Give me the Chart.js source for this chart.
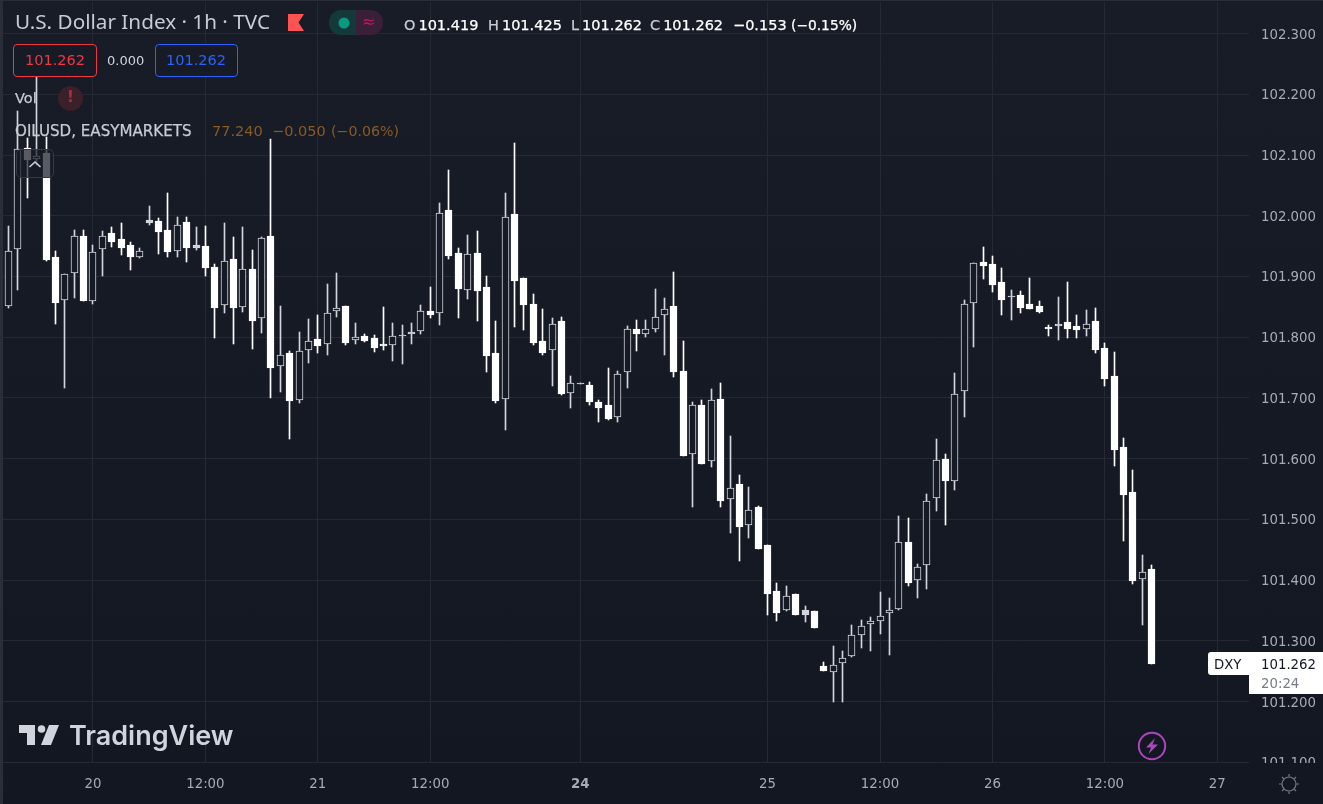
<!DOCTYPE html>
<html lang="en">
<head>
<meta charset="UTF-8">
<title>U.S. Dollar Index</title>
<script src="https://cdn.jsdelivr.net/npm/chart.js"></script>
<style>
  html, body { margin: 0; padding: 0; }
  body { width: 1323px; height: 804px; overflow: hidden; position: relative;
         background: linear-gradient(#181c27, #131722); font-family: "DejaVu Sans", sans-serif; }
  canvas { position: absolute; left: 0; top: 0; }
  .t { position: absolute; white-space: pre; line-height: 1; }
  .box { position: absolute; box-sizing: border-box; }
  .med { -webkit-text-stroke: 0.25px currentColor; }
  .dim { color: #c8cbd3; margin-right: 3px; }
  svg { position: absolute; overflow: visible; }
</style>
</head>
<body>
<canvas id="dxyChart" width="1323" height="804"></canvas>

<div class="box" style="left:0;top:0;width:3px;height:804px;background:#2a2e39"></div>
<div class="box" style="left:0;top:0;width:1323px;height:1px;background:#2a2e39"></div>
<div class="box" style="left:1249px;top:763px;width:74px;height:41px;background:#131722"></div>

<span class="t" style="left:15px;top:11px;font-family:'Noto Sans';font-size:20.7px;color:#c8cbd3">U.S. Dollar Index · 1h · TVC</span>
<svg style="left:0;top:0" width="1" height="1"><polygon points="288,14 304,14 298.5,22.5 304,31 288,31" fill="#ff5252"/></svg>
<div class="box" style="left:329px;top:10px;width:27px;height:25px;background:#15393a;border-radius:12px 0 0 12px"></div>
<div class="box" style="left:356px;top:10px;width:27px;height:25px;background:#3a1f38;border-radius:0 12px 12px 0"></div>
<svg style="left:0;top:0" width="1" height="1"><circle cx="344" cy="23" r="5.5" fill="#089981"/></svg>
<span class="t" style="left:362px;top:14px;font-size:16px;color:#c2185b">≈</span>

<span class="t med" style="left:404px;top:18px;font-size:14.5px;color:#fff"><span class="dim">O</span>101.419</span>
<span class="t med" style="left:488px;top:18px;font-size:14.5px;color:#fff"><span class="dim">H</span>101.425</span>
<span class="t med" style="left:571px;top:18px;font-size:14.5px;color:#fff"><span class="dim">L</span>101.262</span>
<span class="t med" style="left:650px;top:18px;font-size:14.5px;color:#fff"><span class="dim">C</span>101.262</span>
<span class="t med" style="left:733px;top:18px;font-size:14.5px;color:#fff">−0.153</span>
<span class="t med" style="left:791px;top:18.5px;font-size:13.8px;color:#fff">(−0.15%)</span>

<div class="box" style="left:13px;top:44px;width:84px;height:33px;border:1px solid #f23645;border-radius:4px;background:#171b26"></div>
<span class="t" style="left:25px;top:53px;font-size:14.5px;color:#f23645">101.262</span>
<span class="t" style="left:107px;top:54px;font-size:13px;color:#d1d4dc">0.000</span>
<div class="box" style="left:155px;top:44px;width:83px;height:33px;border:1px solid #2962ff;border-radius:4px;background:#171b26"></div>
<span class="t" style="left:166px;top:53px;font-size:14.5px;color:#2962ff">101.262</span>

<span class="t med" style="left:15px;top:91px;font-size:14.5px;color:#c8cbd3">Vol</span>
<div class="box" style="left:58px;top:86px;width:25px;height:25px;border-radius:50%;background:#3a2029"></div>
<span class="t" style="left:67px;top:90px;font-size:15px;font-weight:bold;color:#b8293a">!</span>

<span class="t med" style="left:15px;top:124px;font-size:15.1px;color:#c8cbd3">OILUSD, EASYMARKETS</span>
<span class="t" style="left:212px;top:124px;font-size:14.5px;color:#8a5a24">77.240</span>
<span class="t" style="left:272px;top:124px;font-size:14.5px;color:#8a5a24">−0.050</span>
<span class="t" style="left:331px;top:124px;font-size:14.2px;color:#8a5a24">(−0.06%)</span>

<div class="box" style="left:16px;top:149px;width:38px;height:29px;border:1px solid #363a45;border-radius:5px;background:rgba(24,28,39,0.72)"></div>
<svg style="left:0;top:0" width="1" height="1"><polyline points="29.5,167 35,162 40.5,167" fill="none" stroke="#d1d4dc" stroke-width="1.6"/></svg>

<svg style="left:0;top:0" width="1" height="1" fill="#d1d4dc">
  <polygon points="19,725 35,725 35,745 27,745 27,733 19,733"/>
  <circle cx="41.5" cy="729" r="3.8"/>
  <polygon points="49,725 59,725 51,745 41,745"/>
</svg>
<span class="t" style="left:69px;top:722px;font-family:Inter;font-weight:600;font-size:27px;color:#d1d4dc">TradingView</span>

<div class="box" style="left:1208px;top:652px;width:41px;height:23px;background:#fff;border-radius:3px 0 0 3px"></div>
<div class="box" style="left:1249px;top:652px;width:74px;height:42px;background:#fff"></div>
<span class="t" style="left:1214px;top:658px;font-size:13.3px;color:#131722">DXY</span>
<span class="t" style="left:1261px;top:658px;font-size:13.3px;color:#131722">101.262</span>
<span class="t" style="left:1261px;top:677px;font-size:13.3px;color:#787b86">20:24</span>

<svg style="left:0;top:0" width="1" height="1">
  <circle cx="1152" cy="746" r="13.2" fill="none" stroke="#ab47bc" stroke-width="2"/>
  <polygon points="1155,738 1146,747.5 1151,747.5 1148.5,754 1158,744.5 1152.5,744.5" fill="#ab47bc"/>
</svg>
<svg style="left:0;top:0" width="1" height="1" fill="none" stroke="#787b86" stroke-width="1.2">
  <circle cx="1289" cy="784" r="7"/>
  <path d="M1289 774v2.5M1289 791.5v2.5M1279 784h2.5M1296.5 784h2.5M1282 777l1.8 1.8M1294.2 789.2l1.8 1.8M1296 777l-1.8 1.8M1283.8 789.2l-1.8 1.8"/>
</svg>

<script>
// hourly candles
const opens = [101.852,101.945,102.111,102.094,102.103,101.932,101.862,101.905,101.967,101.859,
  101.946,101.972,101.962,101.952,101.932,101.988,101.991,101.977,101.942,101.990,
  101.947,101.950,101.916,101.853,101.929,101.850,101.912,101.832,101.967,101.753,
  101.774,101.697,101.779,101.797,101.789,101.843,101.851,101.795,101.802,101.799,
  101.789,101.787,101.802,101.805,101.810,101.843,101.840,102.009,101.939,101.878,
  101.939,101.883,101.774,101.699,102.003,101.897,101.855,101.794,101.779,101.827,
  101.708,101.723,101.722,101.693,101.688,101.668,101.742,101.814,101.805,101.813,
  101.836,101.851,101.745,101.607,101.689,101.596,101.699,101.533,101.558,101.491,
  101.520,101.457,101.382,101.350,101.377,101.342,101.349,101.258,101.249,101.264,
  101.275,101.309,101.328,101.333,101.346,101.352,101.462,101.400,101.425,101.535,
  101.599,101.564,101.712,101.856,101.924,101.920,101.891,101.866,101.869,101.854,
  101.851,101.817,101.818,101.825,101.818,101.814,101.826,101.782,101.736,101.619,
  101.545,101.401,101.419];
const highs = [101.983,102.172,102.128,102.240,102.130,101.942,101.904,101.977,101.977,101.952,
  101.975,101.981,101.988,101.957,101.947,102.016,101.996,102.037,101.998,101.998,
  101.981,101.983,101.921,101.988,101.965,101.981,101.944,101.965,102.126,101.851,
  101.777,101.809,101.830,101.837,101.888,101.906,101.851,101.823,101.805,101.804,
  101.850,101.823,101.820,101.823,101.853,101.883,102.021,102.075,101.947,101.968,
  101.975,101.901,101.827,102.037,102.120,101.897,101.871,101.846,101.832,101.833,
  101.736,101.724,101.727,101.697,101.750,101.745,101.818,101.828,101.828,101.880,
  101.864,101.908,101.793,101.693,101.697,101.714,101.725,101.638,101.573,101.553,
  101.522,101.457,101.395,101.391,101.377,101.357,101.349,101.265,101.291,101.283,
  101.326,101.335,101.339,101.380,101.370,101.505,101.503,101.426,101.541,101.633,
  101.607,101.741,101.861,101.923,101.948,101.933,101.914,101.877,101.876,101.897,
  101.859,101.820,101.866,101.891,101.836,101.845,101.848,101.790,101.775,101.634,
  101.581,101.442,101.425];
const lows = [101.848,101.878,102.029,102.084,101.925,101.822,101.717,101.865,101.860,101.854,
  101.901,101.949,101.935,101.911,101.930,101.985,101.937,101.932,101.932,101.924,
  101.944,101.901,101.799,101.840,101.789,101.841,101.781,101.807,101.700,101.710,
  101.632,101.692,101.758,101.774,101.771,101.833,101.787,101.789,101.792,101.776,
  101.779,101.761,101.756,101.789,101.805,101.832,101.820,101.929,101.832,101.863,
  101.827,101.743,101.692,101.647,101.817,101.812,101.787,101.771,101.720,101.705,
  101.683,101.723,101.689,101.661,101.663,101.660,101.717,101.777,101.800,101.808,
  101.770,101.735,101.604,101.520,101.592,101.586,101.521,101.478,101.432,101.469,
  101.451,101.342,101.332,101.349,101.342,101.331,101.321,101.250,101.199,101.199,
  101.273,101.289,101.283,101.311,101.276,101.350,101.391,101.370,101.385,101.513,
  101.490,101.548,101.668,101.784,101.896,101.874,101.836,101.828,101.840,101.846,
  101.840,101.802,101.795,101.798,101.798,101.802,101.774,101.719,101.588,101.464,
  101.393,101.326,101.262];
const closes = [101.942,102.110,102.092,102.098,101.927,101.857,101.904,101.966,101.860,101.941,
  101.966,101.957,101.947,101.932,101.942,101.993,101.973,101.940,101.985,101.947,
  101.952,101.914,101.848,101.925,101.848,101.912,101.827,101.963,101.749,101.771,
  101.695,101.777,101.794,101.786,101.840,101.848,101.790,101.800,101.794,101.782,
  101.786,101.802,101.804,101.809,101.843,101.837,102.004,101.934,101.879,101.937,
  101.876,101.769,101.695,101.998,101.893,101.853,101.790,101.774,101.822,101.706,
  101.724,101.724,101.693,101.684,101.665,101.739,101.814,101.805,101.814,101.834,
  101.847,101.742,101.604,101.688,101.592,101.697,101.530,101.552,101.487,101.516,
  101.451,101.377,101.345,101.373,101.342,101.350,101.321,101.251,101.261,101.272,
  101.310,101.325,101.333,101.341,101.350,101.462,101.396,101.422,101.531,101.598,
  101.563,101.707,101.854,101.923,101.917,101.886,101.861,101.868,101.848,101.846,
  101.841,101.813,101.822,101.813,101.812,101.821,101.779,101.731,101.614,101.540,
  101.398,101.414,101.262];

// small up bars that read as solid grey dashes
const grayBars = [15, 20, 42, 43, 61, 85, 107, 112];
const timeTickBars = [9, 21, 33, 45, 61, 81, 93, 105, 117, 129];
const timeTickLabels = ['20', '12:00', '21', '12:00', '24', '25', '12:00', '26', '12:00', '27'];
const priceTicks = [101.1, 101.2, 101.3, 101.4, 101.5, 101.6, 101.7, 101.8, 101.9, 102.0, 102.1, 102.2, 102.3];

const candleUp = '#d1d4dc';
const candleDown = '#ffffff';
const chartBg = '#161a25';
const gridColor = '#252934';
const tickColor = '#a8abb3';
const axisFamily = '"DejaVu Sans"';

const isUp = (i) => closes[i] > opens[i];
const lineColors = opens.map((_, i) => (isUp(i) ? candleUp : candleDown));
const bodyColors = opens.map((_, i) => {
    if (grayBars.includes(i)) return candleUp;
    return isUp(i) ? chartBg : candleDown;
});

// canvas bars land on fractions of a pixel, snap them so candles stay crisp
const snapBars = {
    id: 'snapBars',
    afterDatasetsUpdate(chart) {
        chart.getSortedVisibleDatasetMetas().forEach(meta => {
            meta.data.forEach(bar => {
                bar.x = Math.round(bar.x - 0.5) + 0.5;
                bar.y = Math.round(bar.y);
                bar.base = Math.round(bar.base);
                if (bar.base === bar.y) bar.base = bar.y + 1;
            });
        });
    }
};

// the plot fills the canvas, no extra room for the outer tick labels
function noLabelPadding(scale) {
    scale.paddingTop = 0;
    scale.paddingBottom = 0;
    scale.paddingLeft = 0;
    scale.paddingRight = 0;
}

new Chart(document.getElementById('dxyChart').getContext('2d'), {
    type: 'bar',
    plugins: [snapBars],
    data: {
        datasets: [
            {
                // bodies, on top of the wicks
                order: 1,
                data: opens.map((o, i) => ({ x: i, y: [o, closes[i]] })),
                barThickness: 7,
                borderWidth: 1,
                borderSkipped: false,
                backgroundColor: bodyColors,
                borderColor: lineColors
            },
            {
                order: 2,
                data: lows.map((l, i) => ({ x: i, y: [l, highs[i]] })),
                barThickness: 1,
                borderWidth: 0,
                backgroundColor: lineColors
            }
        ]
    },
    options: {
        responsive: false,
        animation: false,
        grouped: false,
        layout: { padding: { left: 3, top: 2, right: 0, bottom: 0 } },
        plugins: { legend: { display: false }, tooltip: { enabled: false } },
        scales: {
            x: {
                type: 'linear',
                offset: false,
                min: -0.5977,
                max: 132.38,
                afterBuildTicks: (scale) => { scale.ticks = timeTickBars.map(v => ({ value: v })); },
                afterFit: (scale) => { scale.height = 41; noLabelPadding(scale); },
                border: { display: false },
                grid: { color: gridColor, offset: false, drawTicks: false },
                ticks: {
                    autoSkip: false,
                    maxRotation: 0,
                    padding: 14,
                    color: tickColor,
                    font: (ctx) => ({
                        family: axisFamily,
                        size: 13.3,
                        weight: ctx.tick && ctx.tick.value === 61 ? 'bold' : 'normal'
                    }),
                    callback: (v) => timeTickLabels[timeTickBars.indexOf(v)]
                }
            },
            y: {
                position: 'right',
                min: 101.0988,
                max: 102.352,
                afterBuildTicks: (scale) => { scale.ticks = priceTicks.map(v => ({ value: v })); },
                afterFit: (scale) => { scale.width = 74; noLabelPadding(scale); },
                border: { display: false },
                grid: { color: gridColor, drawTicks: false },
                ticks: {
                    padding: 12,
                    labelOffset: 1.5,
                    color: tickColor,
                    font: { family: axisFamily, size: 13.3 },
                    callback: (v) => v.toFixed(3)
                }
            }
        }
    }
});
</script>
</body>
</html>
